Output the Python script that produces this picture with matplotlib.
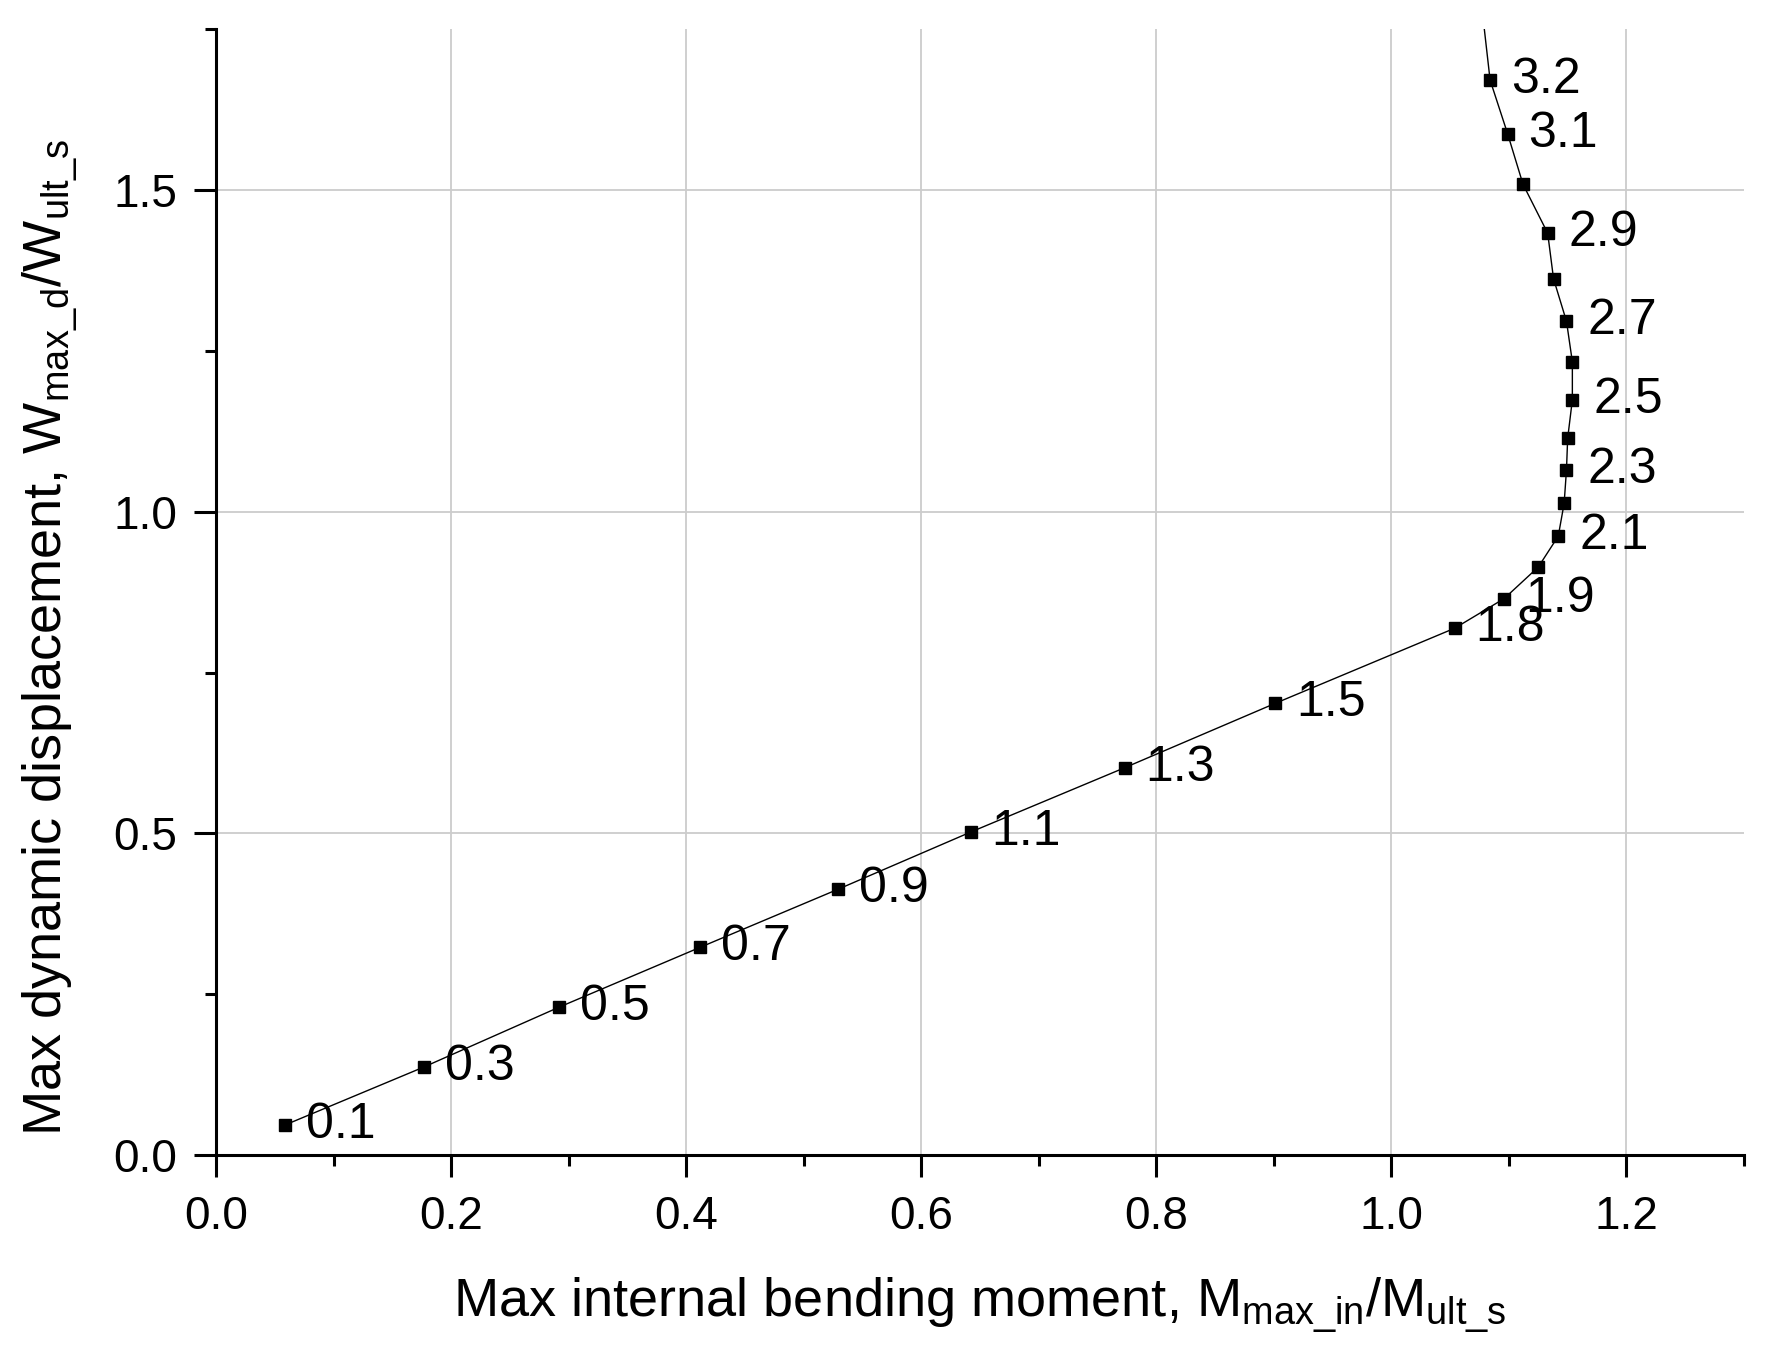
import matplotlib
matplotlib.use("Agg")
import matplotlib.pyplot as plt
from matplotlib.ticker import MultipleLocator

plt.rcParams['font.family'] = ['Liberation Sans', 'DejaVu Sans']
plt.rcParams['mathtext.fontset'] = 'custom'
plt.rcParams['mathtext.rm'] = 'Liberation Sans'
plt.rcParams['mathtext.it'] = 'Liberation Sans'

# load ratio for each point (the label), moment ratio (x), displacement ratio (y)
load = [0.1, 0.3, 0.5, 0.7, 0.9, 1.1, 1.3, 1.5, 1.8, 1.9, 2.0, 2.1, 2.2,
        2.3, 2.4, 2.5, 2.6, 2.7, 2.8, 2.9, 3.0, 3.1, 3.2]
moment = [0.059, 0.177, 0.292, 0.412, 0.529, 0.642, 0.773, 0.901, 1.054,
          1.096, 1.125, 1.142, 1.147, 1.149, 1.150, 1.154, 1.154, 1.149,
          1.138, 1.133, 1.112, 1.099, 1.084]
disp = [0.047, 0.137, 0.230, 0.323, 0.413, 0.502, 0.602, 0.702, 0.819,
        0.865, 0.914, 0.962, 1.013, 1.065, 1.114, 1.174, 1.233, 1.296,
        1.362, 1.433, 1.509, 1.587, 1.671]
labelled = ['0.1', '0.3', '0.5', '0.7', '0.9', '1.1', '1.3', '1.5', '1.8',
            '1.9', '2.1', '2.3', '2.5', '2.7', '2.9', '3.1', '3.2']

# curve carries on past the top of the plot
tail_x = [1.084, 1.076]
tail_y = [1.671, 1.80]

fig = plt.figure(figsize=(17.68, 13.71), dpi=100)
ax = fig.add_axes([0.1222, 0.1575, 0.8642, 0.8212])

ax.plot(moment, disp, color='black', lw=1.0, zorder=3)
ax.plot(tail_x, tail_y, color='black', lw=1.0, zorder=3)
ax.plot(moment, disp, ls='none', marker='s', ms=8, color='black', zorder=4)

for l, x, y in zip(load, moment, disp):
    txt = '%.1f' % l
    if txt in labelled:
        ax.annotate(txt, (x, y), xytext=(15, 0), textcoords='offset points',
                    ha='left', va='center', fontsize=36, zorder=5)

ax.set_xlim(0, 1.3)
ax.set_ylim(0, 1.75)
ax.xaxis.set_major_locator(MultipleLocator(0.2))
ax.xaxis.set_minor_locator(MultipleLocator(0.1))
ax.yaxis.set_major_locator(MultipleLocator(0.5))
ax.yaxis.set_minor_locator(MultipleLocator(0.25))
ax.xaxis.set_major_formatter(lambda v, p: '%.1f' % v)
ax.yaxis.set_major_formatter(lambda v, p: '%.1f' % v)

ax.grid(True, which='major', color='#cccccc', lw=1.3)
ax.set_axisbelow(True)

ax.spines['top'].set_visible(False)
ax.spines['right'].set_visible(False)
ax.spines['left'].set_linewidth(2.2)
ax.spines['bottom'].set_linewidth(2.2)
ax.tick_params(which='major', direction='out', length=16, width=2.2,
               labelsize=33, pad=12)
ax.tick_params(axis='x', which='major', pad=13)
ax.tick_params(which='minor', direction='out', length=8, width=2.2)

ax.set_xlabel(r'Max internal bending moment, M$_{\mathrm{max\_in}}$/M$_{\mathrm{ult\_s}}$',
              fontsize=39)
ax.set_ylabel(r'Max dynamic displacement, W$_{\mathrm{max\_d}}$/W$_{\mathrm{ult\_s}}$',
              fontsize=39)
ax.xaxis.set_label_coords(0.5, -0.107)
ax.yaxis.set_label_coords(-0.089, 0.46)

fig.savefig('out.png', dpi=100)
